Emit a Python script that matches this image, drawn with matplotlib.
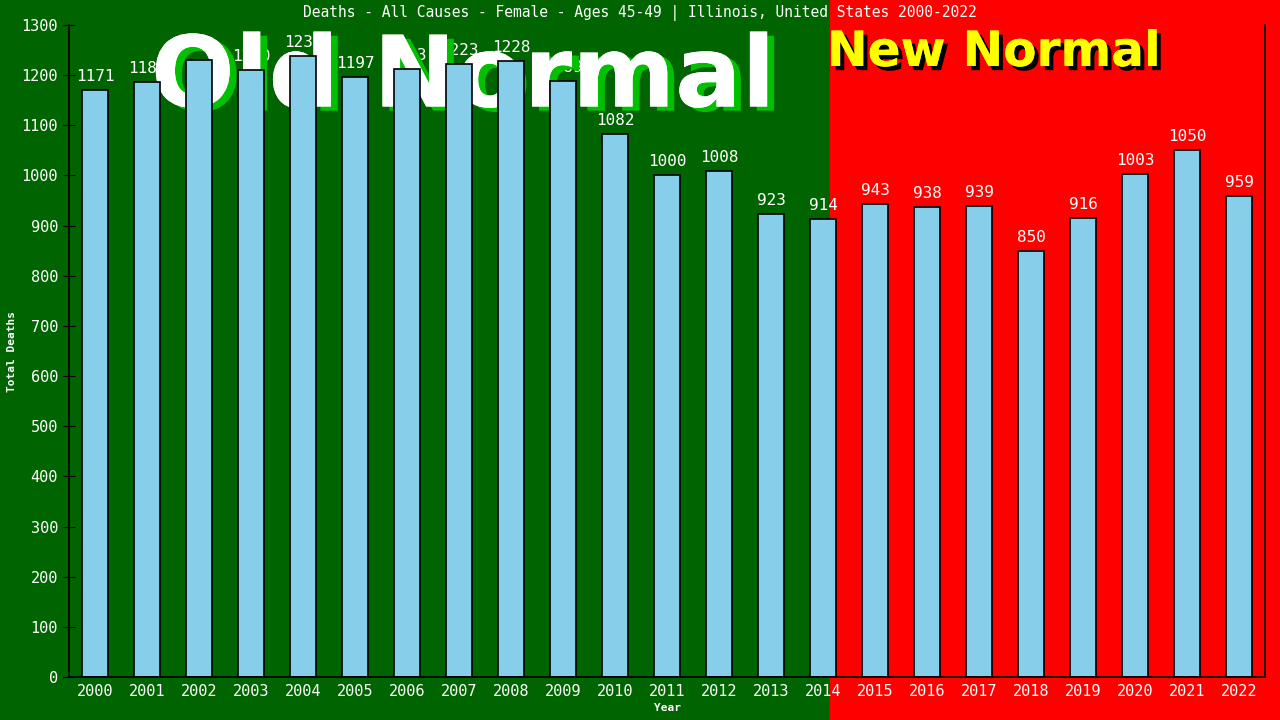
import numpy as np
import matplotlib.pyplot as plt
import matplotlib.patheffects as pe
from matplotlib.patches import Rectangle

# Data
years = [str(y) for y in range(2000, 2023)]
deaths = [1171, 1187, 1231, 1210, 1238, 1197, 1213, 1223, 1228, 1189,
          1082, 1000, 1008, 923, 914, 943, 938, 939, 850, 916,
          1003, 1050, 959]
yTicks = list(range(0, 1301, 100))

title = 'Deaths - All Causes - Female - Ages 45-49 | Illinois, United States 2000-2022'
mono = 'DejaVu Sans Mono'

fig = plt.figure(figsize=(12.8, 7.2), dpi=100)

# background halves: old normal (green) and new normal (red)
split = 830 / 1280
fig.patches.append(Rectangle((0, 0), split, 1, transform=fig.transFigure,
                             color='#006400', zorder=-10))
fig.patches.append(Rectangle((split, 0), 1 - split, 1, transform=fig.transFigure,
                             color='#ff0000', zorder=-10))

ax = fig.add_axes([69 / 1280, 43 / 720, (1265 - 69) / 1280, (677 - 25) / 720])
ax.patch.set_alpha(0)

# big overlay words, drawn behind the bars
ax.text(463 / 1280, 1 - 79 / 720, 'Old Normal', color='white', fontsize=71,
        fontweight='bold', ha='center', va='center', zorder=1.5,
        transform=fig.transFigure, clip_on=False,
        path_effects=[pe.withSimplePatchShadow(offset=(5, -3), shadow_rgbFace='#00c000', alpha=1),
                      pe.Normal()])
ax.text(994 / 1280, 1 - 52 / 720, 'New Normal', color='#ffff00', fontsize=35,
        fontweight='bold', ha='center', va='center', zorder=1.5,
        transform=fig.transFigure, clip_on=False,
        path_effects=[pe.withSimplePatchShadow(offset=(3, -3), shadow_rgbFace='black', alpha=1),
                      pe.Normal()])

x = np.arange(len(years))
bars = ax.bar(x, deaths, 0.5, color='#87ceeb', edgecolor='black', linewidth=1.2, zorder=2)

for i in range(len(bars)):
    rect = bars[i]
    ax.text(rect.get_x() + rect.get_width() / 2, rect.get_height() + 12, str(deaths[i]),
            ha='center', va='bottom', color='white', fontsize=11.5, family=mono, zorder=1)

ax.set_xlim(-0.5, len(years) - 0.5)
ax.set_ylim(0, 1300)
ax.set_yticks(yTicks)
ax.set_xticks(x)
ax.set_xticklabels(years)
ax.tick_params(axis='y', direction='inout', length=9, color='black', labelcolor='white',
               labelsize=11)
ax.tick_params(axis='x', length=0, labelcolor='white', labelsize=11, pad=5)
for lab in ax.get_xticklabels() + ax.get_yticklabels():
    lab.set_family(mono)

for s in ['left', 'bottom', 'right']:
    ax.spines[s].set_color('black')
    ax.spines[s].set_linewidth(1.2)
ax.spines['top'].set_visible(False)

ax.set_ylabel('Total Deaths', color='white', fontsize=8, family=mono, fontweight='bold', labelpad=3)
ax.set_xlabel('Year', color='white', fontsize=8, family=mono, fontweight='bold', labelpad=3)

fig.text(0.5, 1 - 13 / 720, title, color='white', fontsize=10.5, family=mono,
         ha='center', va='center')

plt.savefig('out.png', dpi=100)
